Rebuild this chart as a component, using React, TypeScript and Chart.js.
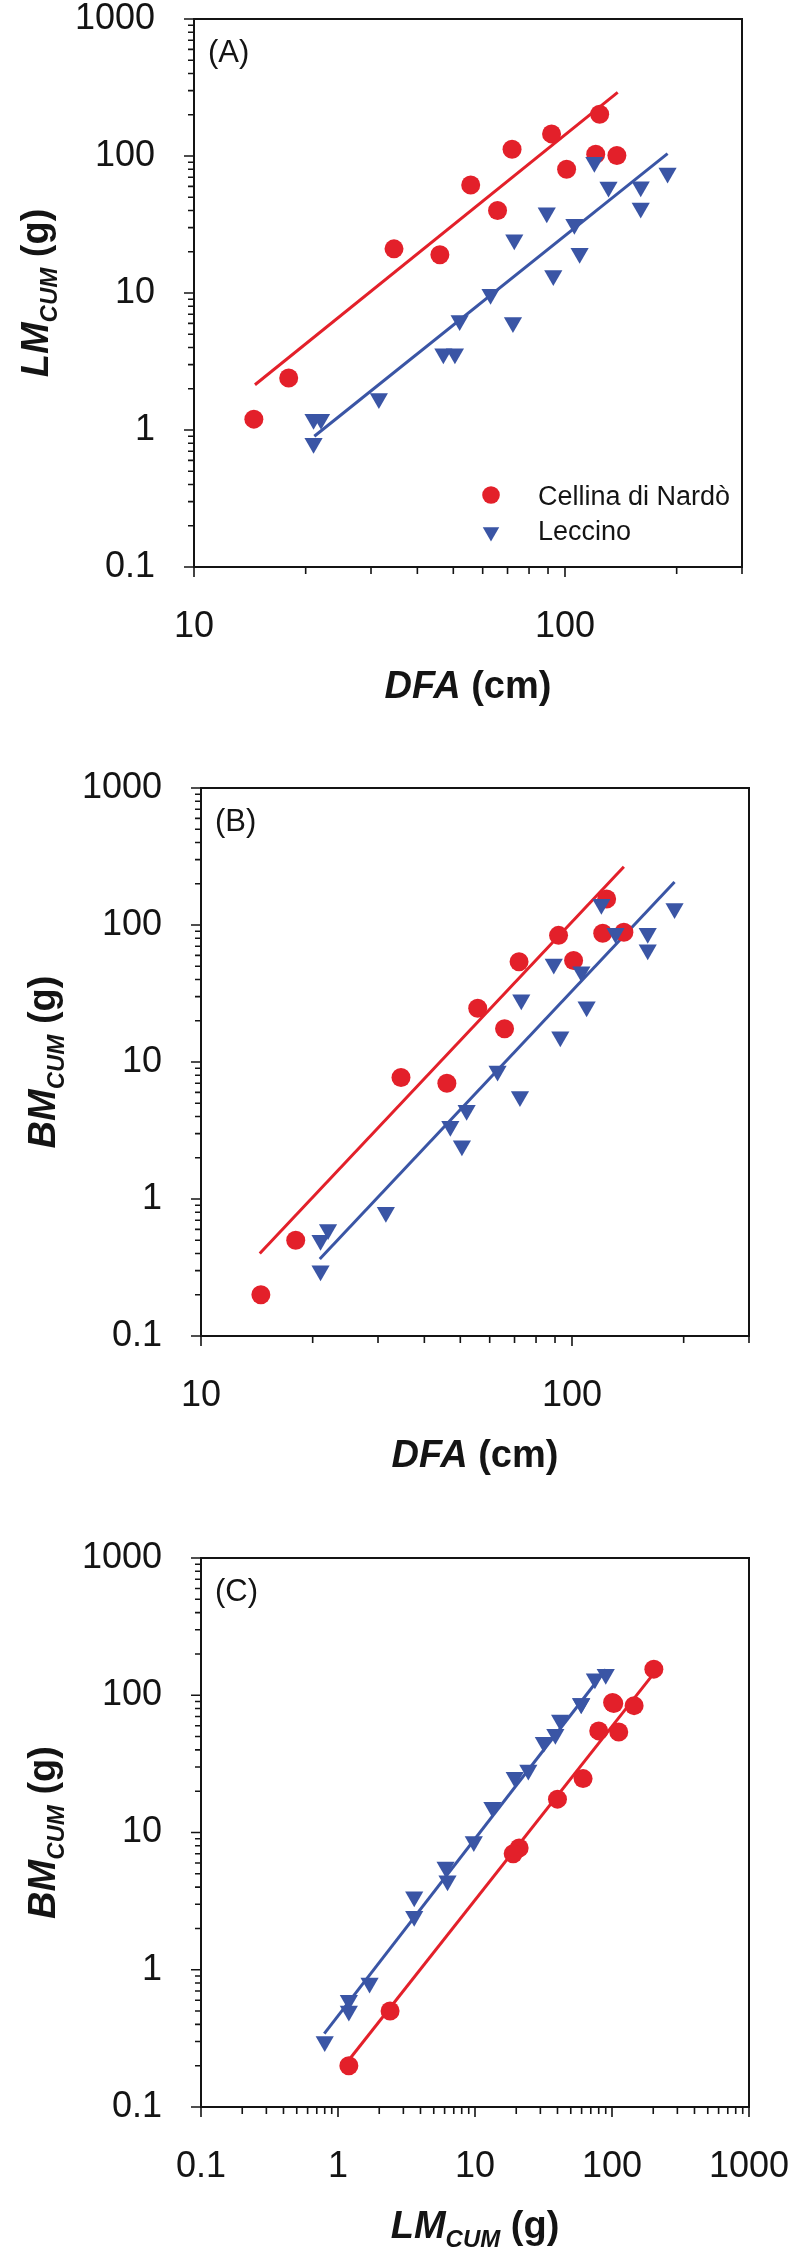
import React, { useEffect, useRef } from 'react';
import { Chart, registerables } from 'chart.js';

Chart.register(...registerables);

// ---------- Data ----------
// Cellina di Nardò (red circles)
const redDFA = [14.5, 18, 34.6, 46, 55.7, 65.8, 72, 92, 101, 121, 124, 138];
const redLM = [1.2, 2.4, 21, 19, 61.5, 40, 112, 145, 80, 103, 202, 101];
const redBM = [0.2, 0.5, 7.7, 7.0, 24.7, 17.5, 54, 84, 55, 87, 155, 88.5];

// Leccino (blue triangles)
const blueDFA = [21, 21, 22, 31.5, 47, 50.5, 52, 63, 72.4, 73, 89.3, 93, 106, 109.5, 120, 131, 160, 160, 189];
const blueLM = [0.8, 1.2, 1.2, 1.7, 3.6, 3.6, 6.3, 9.8, 6.1, 24.5, 38.6, 13.4, 31.8, 19.5, 90, 59.5, 59.7, 41.8, 75];
const blueBM = [0.3, 0.5, 0.6, 0.8, 3.4, 2.45, 4.45, 8.6, 5.6, 28.5, 51.9, 15.3, 45.5, 25.3, 142, 87, 87, 66, 132];

// Fitted lines (end points)
const fitA_redX = [14.6, 138.7];
const fitA_redY = [2.14, 291];
const fitA_blueX = [21.1, 189];
const fitA_blueY = [0.9, 104];
const fitB_redX = [14.4, 138];
const fitB_redY = [0.4, 266];
const fitB_blueX = [20.9, 189];
const fitB_blueY = [0.365, 206];
const fitC_redX = [1.2, 206];
const fitC_redY = [0.22, 148];
const fitC_blueX = [0.794, 90.3];
const fitC_blueY = [0.342, 154];

// Tick labels
const yTickValues = [0.1, 1, 10, 100, 1000];
const xTickValuesDFA = [10, 100];
const xTickValuesLM = [0.1, 1, 10, 100, 1000];

const legendLabels = ['Cellina di Nardò', 'Leccino'];

// ---------- Styles ----------
const RED = '#E3202A';
const BLUE = '#3A55A5';
const INK = '#141414';
const FONT = "'Liberation Sans', Arial, Helvetica, sans-serif";

type Part = { text: string; font: string; dy?: number };

const titleBI = `italic bold 38px ${FONT}`;
const titleB = `bold 38px ${FONT}`;
const subBI = `italic bold 24px ${FONT}`;

const titleDFA: Part[] = [
  { text: 'DFA', font: titleBI },
  { text: ' (cm)', font: titleB },
];
const titleLM: Part[] = [
  { text: 'LM', font: titleBI },
  { text: 'CUM', font: subBI, dy: 9 },
  { text: ' (g)', font: titleB },
];
const titleBM: Part[] = [
  { text: 'BM', font: titleBI },
  { text: 'CUM', font: subBI, dy: 9 },
  { text: ' (g)', font: titleB },
];

function pts(xs: number[], ys: number[]) {
  return xs.map((x, i) => ({ x, y: ys[i] }));
}

function drawRich(ctx: CanvasRenderingContext2D, parts: Part[], cx: number, baseline: number) {
  let total = 0;
  const widths = parts.map((p) => {
    ctx.font = p.font;
    const w = ctx.measureText(p.text).width;
    total += w;
    return w;
  });
  let x = cx - total / 2;
  ctx.textAlign = 'left';
  ctx.textBaseline = 'alphabetic';
  parts.forEach((p, i) => {
    ctx.font = p.font;
    ctx.fillText(p.text, x, baseline + (p.dy || 0));
    x += widths[i];
  });
}

function logMarks(min: number, max: number) {
  const out: { v: number; major: boolean }[] = [];
  const d0 = Math.floor(Math.log10(min)) - 1;
  const d1 = Math.ceil(Math.log10(max)) + 1;
  for (let d = d0; d <= d1; d++) {
    for (let m = 1; m <= 9; m++) {
      const v = m * Math.pow(10, d);
      if (v >= min * 0.999 && v <= max * 1.001) out.push({ v, major: m === 1 });
    }
  }
  return out;
}

const framePlugin = {
  id: 'frame',
  afterDraw(chart: any, _args: any, opts: any) {
    const { ctx, chartArea: a } = chart;
    const xs = chart.scales.x;
    const ys = chart.scales.y;
    ctx.save();
    // frame
    ctx.strokeStyle = INK;
    ctx.lineWidth = 2;
    ctx.strokeRect(a.left, a.top, a.right - a.left, a.bottom - a.top);
    // tick marks
    ctx.lineWidth = 1.6;
    ctx.beginPath();
    for (const t of logMarks(ys.min, ys.max)) {
      const y = ys.getPixelForValue(t.v);
      const len = t.major ? 10 : 6;
      ctx.moveTo(a.left - len, y);
      ctx.lineTo(a.left, y);
    }
    for (const t of logMarks(xs.min, xs.max)) {
      const x = xs.getPixelForValue(t.v);
      const len = t.major ? 10 : 7;
      ctx.moveTo(x, a.bottom);
      ctx.lineTo(x, a.bottom + len);
    }
    ctx.stroke();

    ctx.fillStyle = INK;
    // panel letter
    ctx.font = `31px ${FONT}`;
    ctx.textAlign = 'left';
    ctx.textBaseline = 'alphabetic';
    ctx.fillText(opts.label, a.left + 14, a.top + 43);

    // axis titles
    drawRich(ctx, opts.xTitle, (a.left + a.right) / 2, a.bottom + 131);
    ctx.save();
    ctx.translate(a.left - 146, (a.top + a.bottom) / 2);
    ctx.rotate(-Math.PI / 2);
    drawRich(ctx, opts.yTitle, 0, 0);
    ctx.restore();

    // legend
    if (opts.legend) {
      const cx = a.left + 297;
      const cy1 = a.top + 476;
      const cy2 = a.top + 513;
      ctx.fillStyle = RED;
      ctx.beginPath();
      ctx.arc(cx, cy1, 8.8, 0, Math.PI * 2);
      ctx.fill();
      const r = 9.5;
      ctx.fillStyle = BLUE;
      ctx.beginPath();
      ctx.moveTo(cx, cy2 + r);
      ctx.lineTo(cx - r * Math.sin(Math.PI / 3), cy2 - r / 2);
      ctx.lineTo(cx + r * Math.sin(Math.PI / 3), cy2 - r / 2);
      ctx.closePath();
      ctx.fill();
      ctx.fillStyle = INK;
      ctx.font = `27px ${FONT}`;
      ctx.fillText(legendLabels[0], a.left + 344, a.top + 486);
      ctx.fillText(legendLabels[1], a.left + 344, a.top + 521);
    }
    ctx.restore();
  },
};

type Spec = {
  top: number;
  height: number;
  L: number;
  R: number;
  T: number;
  H: number;
  xMin: number;
  xMax: number;
  xTicks: number[];
  label: string;
  xTitle: Part[];
  yTitle: Part[];
  legend: boolean;
  redX: number[];
  redY: number[];
  blueX: number[];
  blueY: number[];
  redFitX: number[];
  redFitY: number[];
  blueFitX: number[];
  blueFitY: number[];
};

const specs: Spec[] = [
  {
    top: 0, height: 760, L: 194, R: 52, T: 19, H: 193,
    xMin: 10, xMax: 300, xTicks: xTickValuesDFA, label: '(A)',
    xTitle: titleDFA, yTitle: titleLM, legend: true,
    redX: redDFA, redY: redLM, blueX: blueDFA, blueY: blueLM,
    redFitX: fitA_redX, redFitY: fitA_redY, blueFitX: fitA_blueX, blueFitY: fitA_blueY,
  },
  {
    top: 770, height: 760, L: 201, R: 45, T: 18, H: 194,
    xMin: 10, xMax: 300, xTicks: xTickValuesDFA, label: '(B)',
    xTitle: titleDFA, yTitle: titleBM, legend: false,
    redX: redDFA, redY: redBM, blueX: blueDFA, blueY: blueBM,
    redFitX: fitB_redX, redFitY: fitB_redY, blueFitX: fitB_blueX, blueFitY: fitB_blueY,
  },
  {
    top: 1540, height: 715, L: 201, R: 45, T: 18, H: 148,
    xMin: 0.1, xMax: 1000, xTicks: xTickValuesLM, label: '(C)',
    xTitle: titleLM, yTitle: titleBM, legend: false,
    redX: redLM, redY: redBM, blueX: blueLM, blueY: blueBM,
    redFitX: fitC_redX, redFitY: fitC_redY, blueFitX: fitC_blueX, blueFitY: fitC_blueY,
  },
];

function zeroPad(s: any) {
  s.paddingLeft = 0;
  s.paddingRight = 0;
  s.paddingTop = 0;
  s.paddingBottom = 0;
}

function Panel({ spec }: { spec: Spec }) {
  const ref = useRef<HTMLCanvasElement | null>(null);
  useEffect(() => {
    if (!ref.current) return;
    const tickFont = { family: FONT, size: 36, weight: 'normal' as const };
    const chart = new Chart(ref.current, {
      type: 'scatter',
      data: {
        datasets: [
          {
            data: pts(spec.redFitX, spec.redFitY),
            showLine: true,
            borderColor: RED,
            borderWidth: 3,
            pointRadius: 0,
            order: 4,
          },
          {
            data: pts(spec.blueFitX, spec.blueFitY),
            showLine: true,
            borderColor: BLUE,
            borderWidth: 3,
            pointRadius: 0,
            order: 3,
          },
          {
            data: pts(spec.redX, spec.redY),
            pointStyle: 'circle',
            pointRadius: 9.5,
            backgroundColor: RED,
            borderColor: RED,
            borderWidth: 0,
            order: 2,
          },
          {
            data: pts(spec.blueX, spec.blueY),
            pointStyle: 'triangle',
            rotation: 180,
            pointRadius: 10.5,
            backgroundColor: BLUE,
            borderColor: BLUE,
            borderWidth: 0,
            order: 1,
          },
        ],
      } as any,
      options: {
        responsive: false,
        animation: false,
        devicePixelRatio: 1,
        events: [],
        layout: {
          padding: { left: 0, top: spec.T, right: spec.R, bottom: 0 },
          autoPadding: false,
        },
        plugins: {
          legend: { display: false },
          tooltip: { enabled: false },
          frame: {
            label: spec.label,
            xTitle: spec.xTitle,
            yTitle: spec.yTitle,
            legend: spec.legend,
          },
        } as any,
        scales: {
          x: {
            type: 'logarithmic',
            position: 'bottom',
            min: spec.xMin,
            max: spec.xMax,
            grid: { display: false },
            border: { display: false },
            ticks: {
              autoSkip: false,
              maxRotation: 0,
              minRotation: 0,
              padding: 30,
              font: tickFont,
              color: INK,
              callback: (v: any) => String(v),
            },
            afterBuildTicks: (s: any) => {
              s.ticks = spec.xTicks.map((v) => ({ value: v }));
            },
            afterFit: (s: any) => {
              s.height = spec.H;
              zeroPad(s);
            },
          },
          y: {
            type: 'logarithmic',
            position: 'left',
            min: 0.1,
            max: 1000,
            grid: { display: false },
            border: { display: false },
            ticks: {
              autoSkip: false,
              padding: 31,
              font: tickFont,
              color: INK,
              callback: (v: any) => String(v),
            },
            afterBuildTicks: (s: any) => {
              s.ticks = yTickValues.map((v) => ({ value: v }));
            },
            afterFit: (s: any) => {
              s.width = spec.L;
              zeroPad(s);
            },
          },
        } as any,
      },
      plugins: [framePlugin as any],
    });
    return () => chart.destroy();
  }, [spec]);
  return (
    <canvas
      ref={ref}
      width={794}
      height={spec.height}
      style={{ position: 'absolute', left: 0, top: spec.top, width: 794, height: spec.height }}
    />
  );
}

export default function App() {
  return (
    <div
      style={{
        position: 'absolute',
        left: 0,
        top: 0,
        width: 794,
        height: 2255,
        background: '#ffffff',
        overflow: 'hidden',
      }}
    >
      {specs.map((s, i) => (
        <Panel key={i} spec={s} />
      ))}
    </div>
  );
}
